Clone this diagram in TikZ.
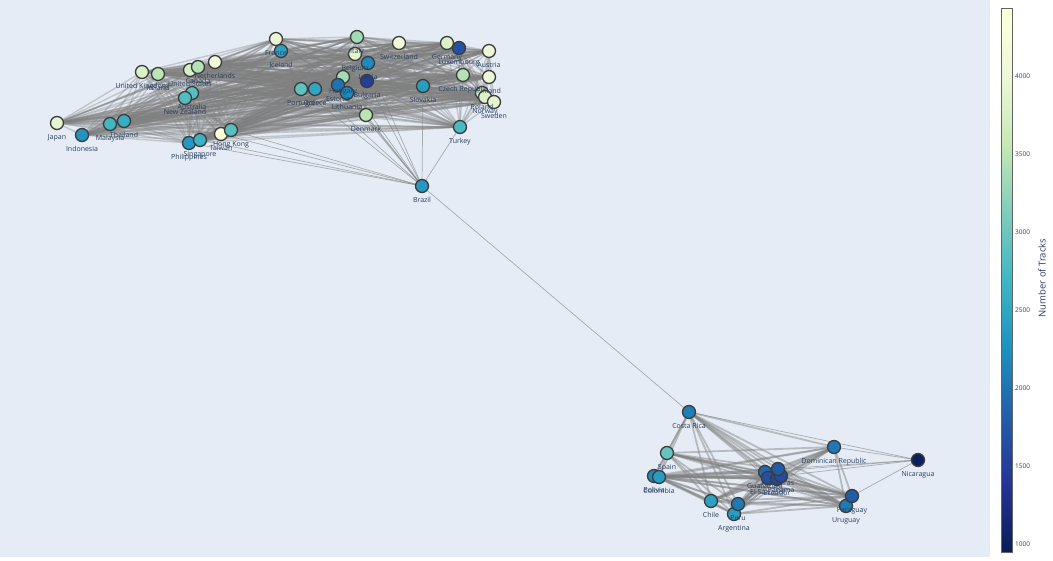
\documentclass[tikz,border=0pt]{standalone}
\usepackage{fontspec}
\setmainfont{Open Sans}
\usepackage{xcolor}
\usepackage{tikz}
\usetikzlibrary{positioning}
\definecolor{plotbg}{RGB}{229,236,246}
\definecolor{labelblue}{RGB}{42,63,95}
\definecolor{edgegray}{RGB}{128,128,128}
\definecolor{rimgray}{RGB}{60,60,60}
\definecolor{yg0}{RGB}{8,29,88}
\definecolor{yg1}{RGB}{37,52,148}
\definecolor{yg2}{RGB}{34,94,168}
\definecolor{yg3}{RGB}{29,145,192}
\definecolor{yg4}{RGB}{65,182,196}
\definecolor{yg5}{RGB}{127,205,187}
\definecolor{yg6}{RGB}{199,233,180}
\definecolor{yg7}{RGB}{237,248,217}
\definecolor{yg8}{RGB}{255,255,217}
\pgfdeclarelayer{bg}
\pgfdeclarelayer{links}
\pgfsetlayers{bg,links,main}
\tikzset{
  country/.style={circle, draw=rimgray, fill=#1, line width=1.3pt,
    minimum size=13pt, inner sep=0pt},
  lbl/.style={font=\fontsize{7}{8}\selectfont, text=labelblue,
    inner sep=0.5pt, text height=5pt, text depth=1.5pt},
  link/.style={draw=edgegray, line width=1.4pt, opacity=0.35},
  heavylink/.style={draw=edgegray, line width=1.8pt, opacity=0.45},
  thinlink/.style={draw=edgegray, line width=0.7pt, opacity=0.6},
  ticklbl/.style={font=\fontsize{6.5}{7}\selectfont, text=labelblue, anchor=west, inner sep=0pt},
  bartitle/.style={font=\fontsize{9.5}{11}\selectfont, text=labelblue, rotate=90}
}
% name / x / y / colour / label
\def\toplist{japan/57/123/yg7!77!yg6/Japan, indonesia/82/135/yg4!10!yg3/Indonesia,
  malaysia/110/124/yg4/Malaysia, thailand/124/121/yg4!79!yg3/Thailand,
  uk/142/72/yg7!54!yg6/United Kingdom, ireland/158/74/yg6!85!yg5/Ireland,
  usa/190/70/yg7!43!yg6/United States, canada/198/67/yg6!74!yg5/Canada,
  netherlands/215/62/yg8!23!yg7/Netherlands, australia/192/93/yg5!36!yg4/Australia,
  newzealand/185/98/yg5!25!yg4/New Zealand, philippines/189/143/yg4!21!yg3/Philippines,
  singapore/200/140/yg4!90!yg3/Singapore, taiwan/221/134/yg8!92!yg7/Taiwan,
  hongkong/231/130/yg5!36!yg4/Hong Kong, france/276/39/yg7!88!yg6/France,
  iceland/281/51/yg4!44!yg3/Iceland, portugal/301/89/yg5!48!yg4/Portugal,
  greece/315/89/yg4!56!yg3/Greece, italy/357/37/yg6!51!yg5/Italy,
  belgium/355/54/yg7!77!yg6/Belgium, latvia/368/63/yg3!87!yg2/Latvia,
  hungary/343/77/yg6!51!yg5/Hungary, estonia/338/85/yg3!41!yg2/Estonia,
  lithuania/347/93/yg3!87!yg2/Lithuania, bulgaria/367/81/yg2!26!yg1/Bulgaria,
  denmark/366/115/yg6!85!yg5/Denmark, switzerland/399/43/yg8!23!yg7/Switzerland,
  germany/447/43/yg7!54!yg6/Germany, luxembourg/459/48/yg2!72!yg1/Luxembourg,
  austria/489/51/yg7/Austria, czech/463/75/yg6!74!yg5/Czech Republic,
  slovakia/423/86/yg4!33!yg3/Slovakia, finland/489/77/yg7/Finland,
  poland/482/93/yg7!54!yg6/Poland, norway/485/97/yg7!54!yg6/Norway,
  sweden/494/102/yg7!77!yg6/Sweden, turkey/460/127/yg5!13!yg4/Turkey}
\def\bottomlist{costarica/689/412/yg3!64!yg2/Costa Rica, spain/667/453/yg5!59!yg4/Spain,
  bolivia/654/476/yg3!87!yg2/Bolivia, colombia/659/477/yg4!33!yg3/Colombia,
  chile/711/501/yg4!44!yg3/Chile, argentina/734/514/yg4!33!yg3/Argentina,
  peru/738/504/yg3!52!yg2/Peru, dominican/834/447/yg3!52!yg2/Dominican Republic,
  uruguay/846/506/yg3!52!yg2/Uruguay, paraguay/852/496/yg2!95!yg1/Paraguay,
  guatemala/765/472/yg3!18!yg2/Guatemala, elsalvador/768/478/yg2!72!yg1/El Salvador,
  ecuador/777/479/yg2!49!yg1/Ecuador, panama/781/476/yg2!61!yg1/Panama,
  honduras/778/469/yg2!95!yg1/Honduras}

\begin{document}
\begin{tikzpicture}[x=1pt, y=-1pt]
  \useasboundingbox (0,0) rectangle (1053,560);
  \begin{pgfonlayer}{bg}
    \fill[white] (0,0) rectangle (1053,560);
    \fill[plotbg] (0,0) rectangle (990,557);
  \end{pgfonlayer}

  % countries
  \foreach \n/\x/\y/\c/\l in \toplist {\node[country=\c] (\n) at (\x,\y) {};}
  \node[country=yg4!21!yg3] (brazil) at (422,186) {};
  \foreach \n/\x/\y/\c/\l in \bottomlist {\node[country=\c] (\n) at (\x,\y) {};}
  \node[country=yg1!11!yg0] (nicaragua) at (918,460) {};

  % names
  \foreach \n/\x/\y/\c/\l in \toplist {\node[lbl, below=4pt of \n] (\n-t) {\l};}
  \node[lbl, below=4pt of brazil] (brazil-t) {Brazil};
  \foreach \n/\x/\y/\c/\l in \bottomlist {\node[lbl, below=4pt of \n] (\n-t) {\l};}
  \node[lbl, below=4pt of nicaragua] (nicaragua-t) {Nicaragua};

  % links
  \begin{pgfonlayer}{links}
    \foreach \a/\xa/\ya/\ca/\la [count=\i] in \toplist {
      \foreach \b/\xb/\yb/\cb/\lb [count=\j] in \toplist {
        \ifnum\j>\i \draw[link] (\a) -- (\b); \fi
      }
    }
    \foreach \a/\xa/\ya/\ca/\la [count=\i] in \bottomlist {
      \foreach \b/\xb/\yb/\cb/\lb [count=\j] in \bottomlist {
        \ifnum\j>\i \draw[heavylink] (\a) -- (\b); \fi
      }
    }
    \foreach \t in {philippines,singapore,taiwan,hongkong,portugal,greece,estonia,lithuania,
      hungary,bulgaria,latvia,denmark,slovakia,turkey,costarica}
      \draw[thinlink] (brazil) -- (\t);
    \foreach \t in {costarica,dominican,guatemala,honduras,panama,paraguay}
      \draw[thinlink] (nicaragua) -- (\t);
  \end{pgfonlayer}

  % colour bar
  \foreach \k [evaluate=\k as \kk using int(\k+1)] in {0,...,7}
    \shade[bottom color=yg\k, top color=yg\kk] (1001,{552-68*\k}) rectangle (1012,{552-68*\kk});
  \draw[rimgray!80, line width=0.8pt] (1001,8) rectangle (1012,552);
  \foreach \v/\yy in {1000/544,1500/466,2000/388,2500/310,3000/232,3500/154,4000/76}
    \node[ticklbl] (tick\v) at (1015,\yy) {\v};
  \node[bartitle] (bartitle) at (1042,278) {Number of Tracks};
\end{tikzpicture}
\end{document}
